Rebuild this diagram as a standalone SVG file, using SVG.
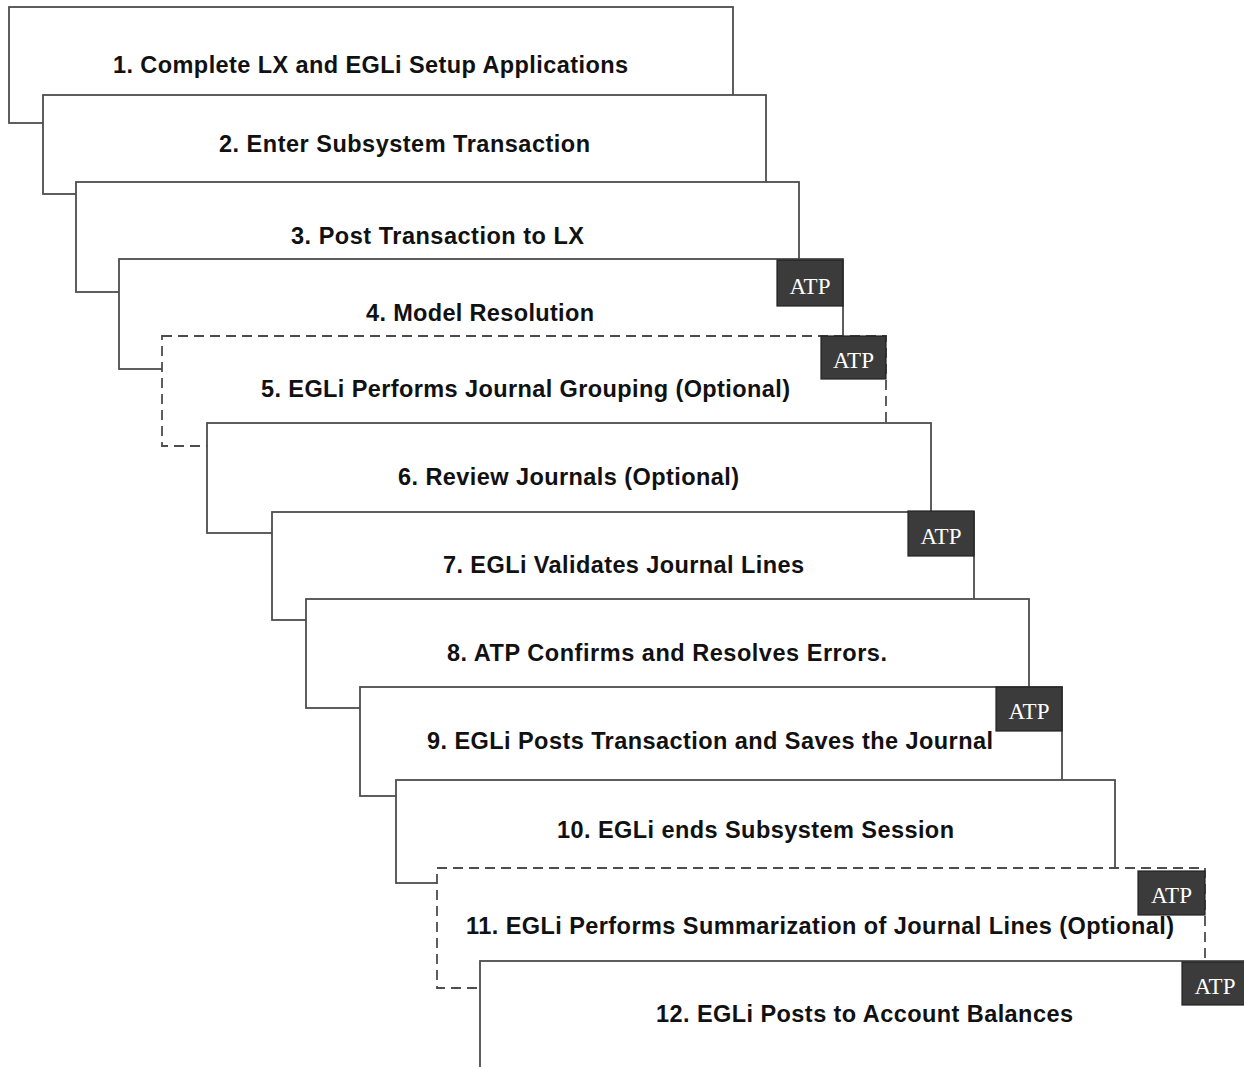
<svg xmlns="http://www.w3.org/2000/svg" width="1244" height="1067" viewBox="0 0 1244 1067">
<style>
.box{fill:#fff;stroke:#4d4d4d;stroke-width:1.8}
.dash{fill:#fff;stroke:#4d4d4d;stroke-width:1.8;stroke-dasharray:10 6}
.lbl{font-family:"Liberation Sans",Arial,sans-serif;font-weight:bold;font-size:23.5px;fill:#111}
.atp{fill:#3b3b3b;stroke:#222;stroke-width:1.2}
.atpt{font-family:"Liberation Serif","Times New Roman",serif;font-size:23px;fill:#fff;text-anchor:middle}
</style>
<rect width="1244" height="1067" fill="#fff"/>
<g id="step1"><rect class="box" x="9" y="7" width="724" height="116"/><text class="lbl" x="113" y="73" textLength="515" lengthAdjust="spacing">1. Complete LX and EGLi Setup Applications</text></g>
<g id="step2"><rect class="box" x="43" y="95" width="723" height="99"/><text class="lbl" x="219" y="152" textLength="371" lengthAdjust="spacing">2. Enter Subsystem Transaction</text></g>
<g id="step3"><rect class="box" x="76" y="182" width="723" height="110"/><text class="lbl" x="291" y="244" textLength="293" lengthAdjust="spacing">3. Post Transaction to LX</text></g>
<g id="step4"><rect class="box" x="119" y="259" width="724" height="110"/><text class="lbl" x="366" y="321" textLength="228" lengthAdjust="spacing">4. Model Resolution</text>
<rect class="atp" x="777" y="260" width="66" height="46"/><text class="atpt" x="810" y="294">ATP</text></g>
<g id="step5"><rect class="dash" x="162" y="336" width="724" height="110"/><text class="lbl" x="261" y="397" textLength="529" lengthAdjust="spacing">5. EGLi Performs Journal Grouping (Optional)</text>
<rect class="atp" x="821" y="336" width="65" height="43"/><text class="atpt" x="853.5" y="368">ATP</text></g>
<g id="step6"><rect class="box" x="207" y="423" width="724" height="110"/><text class="lbl" x="398" y="485" textLength="341" lengthAdjust="spacing">6. Review Journals (Optional)</text></g>
<g id="step7"><rect class="box" x="272" y="512" width="702" height="108"/><text class="lbl" x="443" y="573" textLength="361" lengthAdjust="spacing">7. EGLi Validates Journal Lines</text>
<rect class="atp" x="908" y="511" width="66" height="45"/><text class="atpt" x="941" y="544">ATP</text></g>
<g id="step8"><rect class="box" x="306" y="599" width="723" height="109"/><text class="lbl" x="447" y="661" textLength="440" lengthAdjust="spacing">8. ATP Confirms and Resolves Errors.</text></g>
<g id="step9"><rect class="box" x="360" y="687" width="702" height="109"/><text class="lbl" x="427" y="749" textLength="566" lengthAdjust="spacing">9. EGLi Posts Transaction and Saves the Journal</text>
<rect class="atp" x="996" y="687" width="66" height="44"/><text class="atpt" x="1029" y="719">ATP</text></g>
<g id="step10"><rect class="box" x="396" y="780" width="719" height="103"/><text class="lbl" x="557" y="838" textLength="397" lengthAdjust="spacing">10. EGLi ends Subsystem Session</text></g>
<g id="step11"><rect class="dash" x="437" y="868" width="768" height="120"/><text class="lbl" x="466" y="934" textLength="708" lengthAdjust="spacing">11. EGLi Performs Summarization of Journal Lines (Optional)</text>
<rect class="atp" x="1138" y="871" width="67" height="44"/><text class="atpt" x="1171.5" y="903">ATP</text></g>
<g id="step12"><rect class="box" x="480" y="961" width="780" height="120"/><text class="lbl" x="656" y="1022" textLength="417" lengthAdjust="spacing">12. EGLi Posts to Account Balances</text>
<rect class="atp" x="1182" y="962" width="70" height="43"/><text class="atpt" x="1215" y="994">ATP</text></g>
<g id="connectors"></g>
</svg>
